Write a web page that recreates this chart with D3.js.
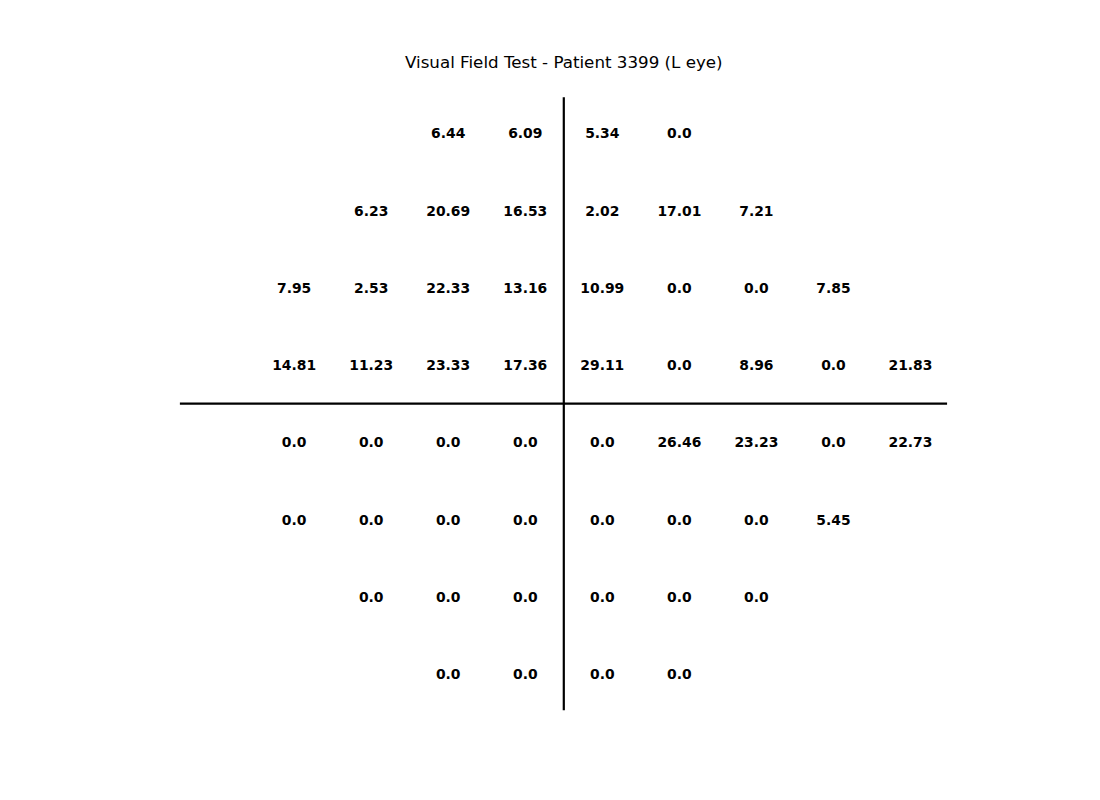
<!DOCTYPE html>
<html>
<head>
<meta charset="utf-8">
<script src="https://cdn.jsdelivr.net/npm/d3@7"></script>
<style>
  html, body { margin: 0; padding: 0; background: #fff; }
  svg { display: block; }
</style>
</head>
<body>
<svg id="chart" width="1100" height="800"></svg>
<script>
// Test point coordinates (degrees) and sensitivity values
const rowY = [21, 15, 9, 3, -3, -9, -15, -21];
const rowXs = [
  [-9, -3, 3, 9],
  [-15, -9, -3, 3, 9, 15],
  [-21, -15, -9, -3, 3, 9, 15, 21],
  [-21, -15, -9, -3, 3, 9, 15, 21, 27],
  [-21, -15, -9, -3, 3, 9, 15, 21, 27],
  [-21, -15, -9, -3, 3, 9, 15, 21],
  [-15, -9, -3, 3, 9, 15],
  [-9, -3, 3, 9]
];
const rowValues = [
  ["6.44", "6.09", "5.34", "0.0"],
  ["6.23", "20.69", "16.53", "2.02", "17.01", "7.21"],
  ["7.95", "2.53", "22.33", "13.16", "10.99", "0.0", "0.0", "7.85"],
  ["14.81", "11.23", "23.33", "17.36", "29.11", "0.0", "8.96", "0.0", "21.83"],
  ["0.0", "0.0", "0.0", "0.0", "0.0", "26.46", "23.23", "0.0", "22.73"],
  ["0.0", "0.0", "0.0", "0.0", "0.0", "0.0", "0.0", "5.45"],
  ["0.0", "0.0", "0.0", "0.0", "0.0", "0.0"],
  ["0.0", "0.0", "0.0", "0.0"]
];
const title = "Visual Field Test - Patient 3399 (L eye)";
const xLimits = [-29.9, 29.85];
const yLimits = [-23.8, 23.8];

const points = [];
rowY.forEach((y, i) => {
  rowXs[i].forEach((x, j) => points.push({x, y, label: rowValues[i][j]}));
});

const svg = d3.select("#chart");
const x = d3.scaleLinear().domain([-30, 30]).range([563.8 - 385.2, 563.8 + 385.2]);
const y = d3.scaleLinear().domain([-24, 24]).range([403.7 + 309, 403.7 - 309]);

// axes cross lines
svg.append("line")
  .attr("x1", x(xLimits[0])).attr("x2", x(xLimits[1]))
  .attr("y1", y(0)).attr("y2", y(0))
  .attr("stroke", "#000").attr("stroke-width", 2.2);
svg.append("line")
  .attr("x1", x(0)).attr("x2", x(0))
  .attr("y1", y(yLimits[0])).attr("y2", y(yLimits[1]))
  .attr("stroke", "#000").attr("stroke-width", 2.2);

svg.append("g").selectAll("text").data(points).join("text")
  .attr("x", d => x(d.x))
  .attr("y", d => y(d.y))
  .attr("dy", 5.0)
  .attr("text-anchor", "middle")
  .attr("font-family", "DejaVu Sans, sans-serif")
  .attr("font-weight", "bold")
  .attr("font-size", "13.9px")
  .attr("fill", "#000")
  .text(d => d.label);

svg.append("text")
  .attr("x", x(0))
  .attr("y", 62)
  .attr("text-anchor", "middle")
  .attr("dominant-baseline", "central")
  .attr("font-family", "DejaVu Sans, sans-serif")
  .attr("font-size", "16.7px")
  .attr("fill", "#000")
  .text(title);
</script>
</body>
</html>
